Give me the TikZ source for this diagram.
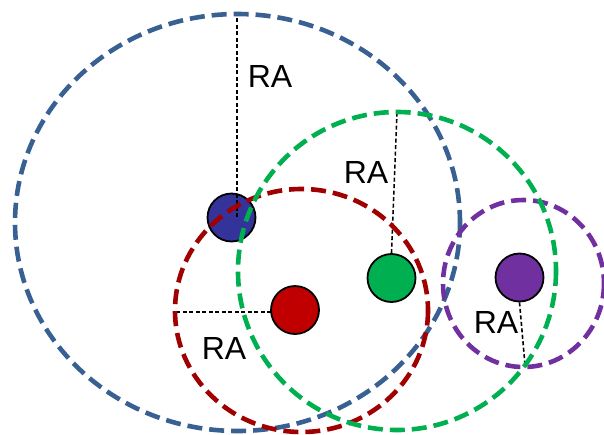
\documentclass[tikz,border=0pt]{standalone}
\usepackage{fontspec}
\setmainfont{Liberation Sans}
\begin{document}
\definecolor{ringblue}{RGB}{56,96,146}
\definecolor{ringgreen}{RGB}{0,176,80}
\definecolor{ringred}{RGB}{160,0,0}
\definecolor{ringpurple}{RGB}{112,48,160}
\definecolor{dotblue}{RGB}{51,51,153}
\definecolor{dotred}{RGB}{192,0,0}
\definecolor{dotgreen}{RGB}{0,176,80}
\definecolor{dotpurple}{RGB}{112,48,160}
\begin{tikzpicture}[x=1pt,y=-1pt,
  ring/.style={line width=4.6pt, dash pattern=on 15pt off 7pt},
  dot/.style={circle, draw=black, line width=1.8pt, minimum size=48pt, inner sep=0pt},
  radius/.style={black, line width=1.6pt, dash pattern=on 4pt off 2.5pt},
  ralabel/.style={font=\fontsize{32}{36}\selectfont, inner sep=0pt, anchor=base}]
\useasboundingbox (0,0) rectangle (604,434);

% station dots
\node[dot, fill=dotblue]   (b) at (231.5,217.5) {};
\node[dot, fill=dotred]    (r) at (295,310) {};
\node[dot, fill=dotgreen]  (g) at (391.5,278) {};
\node[dot, fill=dotpurple] (p) at (519.5,277.5) {};

% radius markers
\coordinate (btop) at (237,14);
\coordinate (bend) at (237,217);
\coordinate (gtop) at (397,112);
\coordinate (rleft) at (176,312);
\coordinate (rstart) at (271,312);
\coordinate (pbot) at (525,365);
\draw[radius] (bend) -- (btop);
\draw[radius] (g.north) -- (gtop);
\draw[radius] (rstart) -- (rleft);
\draw[radius] (p.south) -- (pbot);

% coverage rings
\draw[ring, ringblue]   (237.5,222.5) ellipse [x radius=222.5, y radius=208.5];
\draw[ring, ringred]    (301.5,310.5) ellipse [x radius=126.5, y radius=121.5];
\draw[ring, ringpurple] (523.5,283.5) ellipse [x radius=80.5, y radius=83.5];
\draw[ring, ringgreen]  (397,271) ellipse [x radius=159, y radius=159];

% labels
\node[ralabel] (l1) at (270,87) {RA};
\node[ralabel] (l2) at (366,183) {RA};
\node[ralabel] (l3) at (224,359) {RA};
\node[ralabel] (l4) at (496,333) {RA};
\end{tikzpicture}
\end{document}
